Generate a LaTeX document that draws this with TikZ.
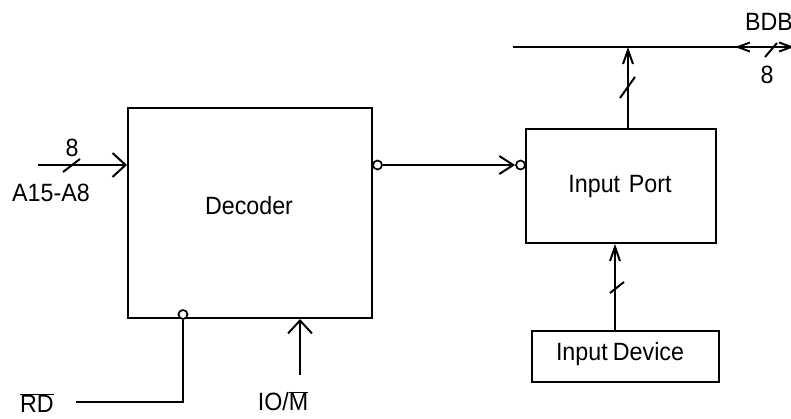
\documentclass[tikz,border=0pt]{standalone}
\usepackage{fontspec}
\setmainfont{Liberation Sans}[FakeStretch=0.93]
\usetikzlibrary{arrows.meta}
\begin{document}
\begin{tikzpicture}[x=1pt,y=-1pt,line width=2pt,
  box/.style={draw,rectangle,inner sep=0pt},
  lbl/.style={font=\fontsize{25}{28}\selectfont,inner sep=0pt},
  bub/.style={draw,circle,minimum size=9pt,inner sep=0pt,line width=1.7pt,fill=white},
  wide/.style={-{Straight Barb[length=13pt,width=24pt,line width=2pt]}},
  mid/.style={-{Straight Barb[length=14pt,width=18pt,line width=2pt]}},
  slim/.style={-{Straight Barb[length=14pt,width=10pt,line width=2pt]}},
  bus/.style={{Straight Barb[length=12pt,width=9pt,line width=2pt]}-{Straight Barb[length=12pt,width=9pt,line width=2pt]}},
  slash/.style={line width=2pt}]
\useasboundingbox (0,0) rectangle (791,419);
% boxes
\node[box,minimum width=244pt,minimum height=210pt] (dec) at (250,213) {};
\node[lbl] (declbl) at (249,206) {Decoder};
\node[box,minimum width=190pt,minimum height=114pt] (port) at (621,186) {};
\node[lbl] (portlbl) at (620,186) {Input\hspace{0.35em}Port};
\node[box,minimum width=187pt,minimum height=51pt] (dev) at (625.5,356.5) {};
\node[lbl] (devlbl) at (620,354) {Input\hspace{-0.05em} Device};
% A15-A8 input
\coordinate (ain) at (38,165);
\draw[wide] (ain) -- (ain -| dec.west);
\draw[slash] (63,172) -- (80,159);
\node[lbl] (eightA) at (72,148) {8};
\node[lbl] (alabel) at (51,193) {A15-A8};
% decoder output to port
\node[bub] (ob) at ([xshift=4.5pt]dec.east |- 0,165) {};
\node[bub] (ib) at ([xshift=-4.5pt]port.west |- 0,165) {};
\draw[mid] (ob.east) -- (ib.west);
% RD
\node[bub] (rdb) at ([yshift=4.5pt]dec.south -| 183,0) {};
\coordinate (rdc) at (183,402);
\coordinate (rdend) at (76,402);
\draw (rdb.south) -- (rdc) -- (rdend);
\node[lbl] (rdlbl) at (37,403) {$\overline{\mbox{RD}}$};
% IO/M
\coordinate (iom) at (300,375);
\draw[wide] (iom) -- (iom |- dec.south);
\node[lbl] (iomlbl) at (283,401) {IO/$\overline{\mbox{M}}$};
% bus
\coordinate (busl) at (513,47);
\coordinate (busr) at (791,47);
\draw (busl) -- (busr);
\coordinate (bdbl) at (735,47);
\coordinate (bdbr) at (794,47);
\draw[bus] (bdbl) -- (bdbr);
\draw[slash] (765,57) -- (777,43);
\node[lbl,anchor=west] (bdblbl) at (744,22) {BDB};
\node[lbl] (eightB) at (767,75) {8};
% port to bus
\coordinate (pt) at (628,47);
\draw[slim] (pt |- port.north) -- (pt);
\draw[slash] (620,98) -- (635,77);
% device to port
\coordinate (dp) at (615,0);
\draw[slim] (dp |- dev.north) -- (dp |- port.south);
\draw[slash] (610,293) -- (624,282);
\end{tikzpicture}
\end{document}
